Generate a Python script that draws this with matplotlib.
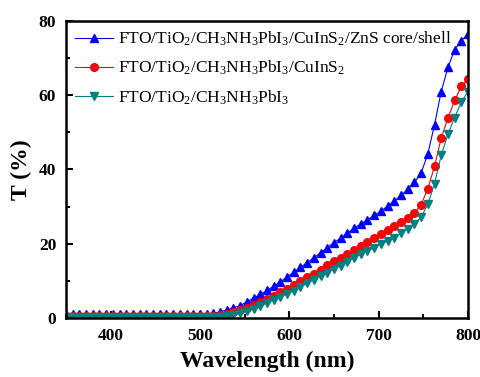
import matplotlib
matplotlib.use('Agg')
import matplotlib.pyplot as plt
from matplotlib.ticker import MultipleLocator

# Données
wavelength = [350, 357.5, 365, 372.5, 380, 387.5, 395, 402.5, 410, 417.5,
              425, 432.5, 440, 447.5, 455, 462.5, 470, 477.5, 485, 492.5,
              500, 507.5, 515, 522.5, 530, 537.5, 545, 552.5, 560, 567.5,
              575, 582.5, 590, 597.5, 605, 612.5, 620, 627.5, 635, 642.5,
              650, 657.5, 665, 672.5, 680, 687.5, 695, 702.5, 710, 717.5,
              725, 732.5, 740, 747.5, 755, 762.5, 770, 777.5, 785, 792.5, 800]

t_core_shell = [0.9, 0.9, 0.9, 0.9, 0.9, 0.9, 0.9, 0.9, 0.9, 0.9,
                0.9, 0.9, 0.9, 0.9, 0.9, 0.9, 0.9, 0.9, 0.9, 0.9,
                0.9, 1.0, 1.2, 1.6, 2.1, 2.7, 3.3, 4.3, 5.3, 6.3,
                7.4, 8.5, 9.7, 11.0, 12.3, 13.6, 14.9, 16.2, 17.5, 18.9,
                20.3, 21.5, 22.8, 24.2, 25.3, 26.4, 27.6, 28.8, 30.1, 31.5,
                33.0, 34.6, 36.5, 39.0, 44.2, 52.0, 61.0, 67.5, 72.3, 74.7, 76.5]

t_cuins2 = [0.6, 0.6, 0.6, 0.6, 0.6, 0.6, 0.6, 0.6, 0.6, 0.6,
            0.6, 0.6, 0.6, 0.6, 0.6, 0.6, 0.6, 0.6, 0.6, 0.6,
            0.6, 0.6, 0.6, 0.8, 1.1, 1.5, 2.0, 2.7, 3.5, 4.3,
            5.1, 6.0, 6.9, 7.8, 8.8, 9.8, 10.9, 11.9, 13.0, 14.2,
            15.2, 16.2, 17.2, 18.3, 19.4, 20.5, 21.5, 22.6, 23.7, 24.8,
            25.9, 27.0, 28.2, 30.5, 34.8, 40.8, 48.5, 53.8, 58.6, 62.4, 64.5]

t_perovskite = [0.3, 0.3, 0.3, 0.3, 0.3, 0.3, 0.3, 0.3, 0.3, 0.3,
                0.3, 0.3, 0.3, 0.3, 0.3, 0.3, 0.3, 0.3, 0.3, 0.3,
                0.3, 0.3, 0.3, 0.3, 0.5, 0.8, 1.2, 1.8, 2.5, 3.2,
                4.0, 4.8, 5.5, 6.4, 7.3, 8.3, 9.3, 10.3, 11.2, 12.1,
                13.1, 14.1, 15.1, 16.1, 17.1, 18.0, 18.9, 19.8, 20.7, 21.6,
                22.8, 24.0, 25.2, 27.2, 30.6, 36.2, 43.8, 49.5, 54.0, 58.2, 61.0]

labels = ['FTO/TiO$_2$/CH$_3$NH$_3$PbI$_3$/CuInS$_2$/ZnS core/shell',
          'FTO/TiO$_2$/CH$_3$NH$_3$PbI$_3$/CuInS$_2$',
          'FTO/TiO$_2$/CH$_3$NH$_3$PbI$_3$']

plt.rcParams['font.family'] = 'Liberation Serif'
plt.rcParams['mathtext.fontset'] = 'custom'
plt.rcParams['mathtext.rm'] = 'Liberation Serif'
plt.rcParams['mathtext.it'] = 'Liberation Serif:italic'
plt.rcParams['mathtext.bf'] = 'Liberation Serif:bold'

fig = plt.figure(figsize=(4.81, 3.77), dpi=100)
ax = fig.add_axes([0.137, 0.157, 0.836, 0.787])

ax.plot(wavelength, t_core_shell, color='#0000ff', marker='^', markersize=5.5,
        linewidth=0.8, label=labels[0])
ax.plot(wavelength, t_cuins2, color='#ff0000', marker='o', markersize=5.5,
        linewidth=0.8, label=labels[1])
ax.plot(wavelength, t_perovskite, color='#008080', marker='v', markersize=5.5,
        linewidth=0.8, label=labels[2])

ax.set_xlim(350, 800)
ax.set_ylim(0, 80)
ax.xaxis.set_major_locator(MultipleLocator(100))
ax.xaxis.set_minor_locator(MultipleLocator(50))
ax.yaxis.set_major_locator(MultipleLocator(20))
ax.yaxis.set_minor_locator(MultipleLocator(10))
ax.tick_params(which='both', direction='in', width=1.5, labelsize=12.5,
               top=False, right=False)
ax.tick_params(which='major', length=5, pad=7)
ax.tick_params(which='minor', length=3)
for lab in ax.get_xticklabels() + ax.get_yticklabels():
    lab.set_fontweight('bold')
for sp in ax.spines.values():
    sp.set_linewidth(1.8)

ax.set_xlabel('Wavelength (nm)', fontsize=17, fontweight='bold', labelpad=5)
ax.set_ylabel('T (%)', fontsize=17, fontweight='bold', labelpad=5)

ax.legend(loc='upper left', frameon=False, fontsize=12.5, handlelength=2.2,
          handletextpad=0.3, labelspacing=0.62, borderaxespad=0.3,
          borderpad=0.2)

plt.savefig('out.png', dpi=100)
